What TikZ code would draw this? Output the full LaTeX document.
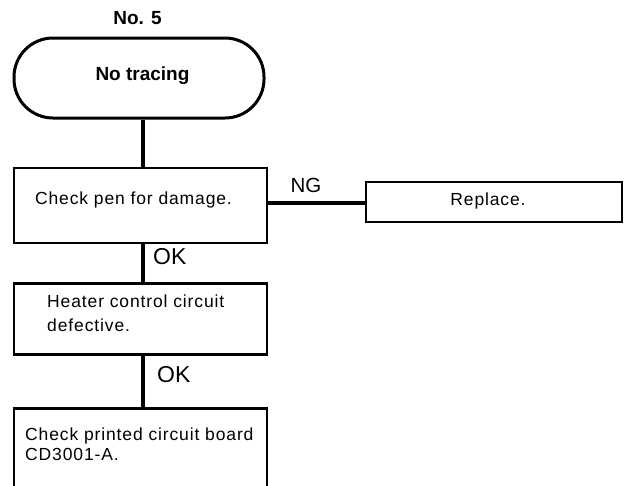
\documentclass[tikz,border=0pt]{standalone}
\usepackage{fontspec}
\setmainfont{Liberation Sans}[LetterSpace=5]
\newfontfamily\lblfont{Liberation Sans}
\begin{document}
\begin{tikzpicture}[x=1pt,y=-1pt,
  every node/.style={font=\fontsize{17.5pt}{21pt}\selectfont},
  boxn/.style={draw, line width=2.7pt, inner sep=0pt},
  conn/.style={line width=4.3pt},
  lbl/.style={inner sep=0pt},
  big/.style={inner sep=0pt, font=\lblfont\fontsize{23pt}{26pt}\selectfont},
  bold/.style={font=\lblfont\fontsize{19pt}{22pt}\selectfont\bfseries}]
\clip (0,0) rectangle (629,485);
\useasboundingbox (0,0) rectangle (629,485);
\node[lbl, bold] (no) at (137.5,18.5) {No. 5};
\node[boxn, bold, line width=3pt, rounded corners=39pt, minimum width=250pt, minimum height=80pt] (t) at (139,78) {};
\node[lbl, bold] (tt) at (142.5,76) {No tracing};
\node[boxn, minimum width=253pt, minimum height=75pt] (b1) at (140.5,205.5) {};
\node[lbl] (b1t) at (133.5,199.5) {Check pen for damage.};
\node[boxn, minimum width=256pt, minimum height=40pt] (r) at (494,202) {};
\node[lbl] (rt) at (488,201) {Replace.};
\node[boxn, minimum width=253pt, minimum height=71pt] (b2) at (140.5,319) {};
\node[lbl, anchor=north west, align=left, font=\fontsize{17.5pt}{24pt}\selectfont] (b2t) at (47,295) {Heater control circuit\\defective.};
\node[boxn, minimum width=253pt, minimum height=100pt, anchor=north] (b3) at (140.5,407) {};
\node[lbl, anchor=north west, align=left, font=\fontsize{17.5pt}{20pt}\selectfont] (b3t) at (25,428) {Check printed circuit board\\CD3001-A.};
\draw[conn] (t.south -| 143,0) -- (b1.north -| 143,0);
\draw[conn] (b1.south -| 143,0) -- (b2.north -| 143,0);
\draw[conn] (b2.south -| 143,0) -- (b3.north -| 143,0);
\draw[conn, line width=4pt] (b1.east |- 0,203) -- (r.west |- 0,203);
\node[big, anchor=west] (ok1) at (153,256.5) {OK};
\node[big, anchor=west] (ok2) at (157,375) {OK};
\node[big, font=\lblfont\fontsize{20.5pt}{24pt}\selectfont] (ng) at (306,185) {NG};
\end{tikzpicture}
\end{document}
